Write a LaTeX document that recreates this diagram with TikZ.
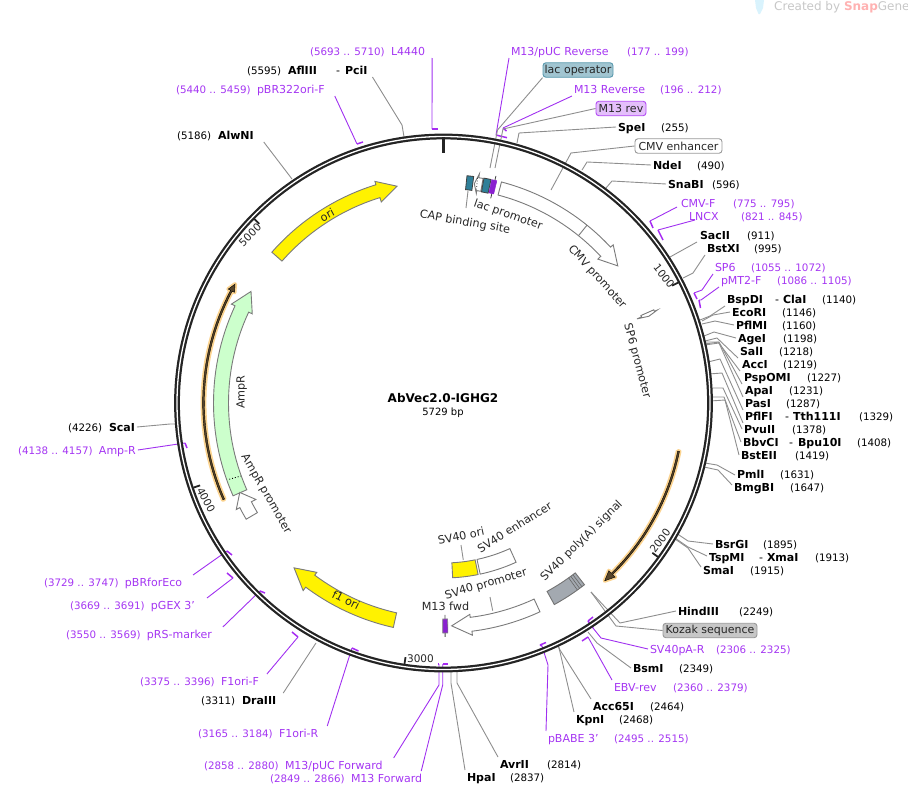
\documentclass[tikz,border=0pt]{standalone}
\usepackage{fontspec}
\setmainfont{DejaVu Sans}
\definecolor{pur}{HTML}{A435F2}
\definecolor{purl}{HTML}{A030F0}
\definecolor{purb}{HTML}{A62BF2}
\definecolor{purf}{HTML}{8A20D0}
\definecolor{gl}{HTML}{8E8E8E}
\definecolor{ringc}{HTML}{242424}
\definecolor{fe}{HTML}{7A7A7A}
\definecolor{teal2}{HTML}{2F7F98}
\definecolor{halo}{HTML}{FBD38F}
\definecolor{core}{HTML}{57452A}
\definecolor{polyc}{HTML}{A3A9B0}
\newcommand\cell[2]{\makebox[#1pt][l]{#2}}
\newcommand\gdw[1]{\textbf{#1}}
\newcommand\nm[1]{{\fontsize{10.3}{13}\selectfont #1}}
% generic label: name, left x, y, style, content
\newcommand\lab[5]{\node[#4] (#1) at ({#2-2},#3) {#5};}
% restriction site right: name x y W text num
\newcommand\rsr[6]{\lab{#1}{#2}{#3}{site}{\cell{#4}{\gdw{#5}}\nm{(#6)}}}
% left: name x y W num text
\newcommand\rsl[6]{\lab{#1}{#2}{#3}{site}{\cell{#4}{\nm{(#5)}}\gdw{#6}}}
\newcommand\prr[6]{\lab{#1}{#2}{#3}{prim}{\cell{#4}{#5}\nm{(#6)}}}
\newcommand\prl[6]{\lab{#1}{#2}{#3}{prim}{\cell{#4}{\nm{(#5)}}#6}}
\newcommand\leadg[4]{\coordinate (#1e) at #4; \draw[gline] #2 -- #3 -- (#1e);}
\newcommand\leadd[3]{\coordinate (#1e) at #3; \draw[gline] #2 -- (#1e);}
\newcommand\leadp[5]{\coordinate (#1e) at #4; \draw[pline] #2 -- #3 -- (#1e); \draw[pfoot] (#1e) -- #5;}
\newcommand\leadq[4]{\coordinate (#1e) at #3; \draw[pline] #2 -- (#1e); \draw[pfoot] (#1e) -- #4;}
% arrow on the circle: style, tail, neck, tip, r in, r out, head in, head out
\newcommand\garrow[8]{\draw[#1] plot[domain=#2:#3,samples=30,variable=\t] ({443.5+#6*sin(\t)},{403-#6*cos(\t)}) -- ({443.5+#8*sin(#3)},{403-#8*cos(#3)}) -- ({443.5+(#5+#6)/2*sin(#4)},{403-(#5+#6)/2*cos(#4)}) -- ({443.5+#7*sin(#3)},{403-#7*cos(#3)}) -- plot[domain=#3:#2,samples=30,variable=\t] ({443.5+#5*sin(\t)},{403-#5*cos(\t)}) -- cycle;}
\newcommand\gband[5]{\draw[#1] plot[domain=#2:#3,samples=12,variable=\t] ({443.5+#5*sin(\t)},{403-#5*cos(\t)}) -- plot[domain=#3:#2,samples=12,variable=\t] ({443.5+#4*sin(\t)},{403-#4*cos(\t)}) -- cycle;}
\newcommand\radial[4]{\draw[#1] ({443.5+#3*sin(#2)},{403-#3*cos(#2)}) -- ({443.5+#4*sin(#2)},{403-#4*cos(#2)});}
\tikzset{
 site/.style={anchor=west,inner sep=0pt,outer xsep=2pt,outer ysep=1pt,font=\fontsize{11}{13}\selectfont,text height=10pt,text depth=2pt,black},
 prim/.style={site,text=pur},
 flab/.style={inner sep=0pt,outer sep=0pt,font=\fontsize{11.2}{13}\selectfont,text=black!85},
 gline/.style={draw=gl,line width=0.9pt,line join=round},
 pline/.style={draw=purl,line width=0.9pt,line join=round},
 pfoot/.style={draw=purb,line width=1.5pt},
 fbox/.style={rounded corners=3pt,inner sep=0pt,minimum height=14.5pt,font=\fontsize{11}{13}\selectfont,line width=0.9pt,text=black!85},
 feat/.style={draw=fe,line width=0.9pt,line join=miter},
 ticklab/.style={inner sep=0pt,font=\fontsize{10.5}{12}\selectfont,text=black!85},
 tickm/.style={draw=ringc,line width=1.8pt},
 orangearrow/.style={fill=core,preaction={draw=halo,line width=4pt,line join=round}},
}
\begin{document}
\begin{tikzpicture}[x=1pt,y=-1pt]
\useasboundingbox (0,0) rectangle (908,795);
% logo
\fill[cyan!15] (755,0) -- (764,0) -- (763,8) -- (760,14) -- (758.5,14) -- (756,8) -- cycle;
\node[anchor=west,inner sep=0pt,font=\fontsize{12}{14}\selectfont,text=black!22] (logo) at (774,7.5) {Created by \textcolor{red!30}{\textbf{Snap}}Gene};
% labels
\prr{m13pucr}{511}{51}{116}{M13/pUC Reverse}{177 .. 199}
\node[fbox,draw=teal2!80,fill=teal2!45,minimum width=70pt] (lacop) at (578,70) {lac operator};
\prr{m13r}{574}{89}{86}{M13 Reverse}{196 .. 212}
\node[fbox,draw=purb!85,fill=purb!30,minimum width=50pt] (m13rev) at (621,108.5) {M13 rev};
\rsr{SpeI}{618}{127}{43}{SpeI}{255}
\node[fbox,draw=black!40,fill=white,minimum width=87pt] (cmvenh) at (678.5,146) {CMV enhancer};
\rsr{NdeI}{653}{165}{44}{NdeI}{490}
\rsr{SnaBI}{668}{184}{44}{SnaBI}{596}
\prr{cmvf}{681}{203}{52}{CMV-F}{775 .. 795}
\prr{lncx}{689}{216}{52}{LNCX}{821 .. 845}
\rsr{SacII}{700}{235}{47}{SacII}{911}
\rsr{BstXI}{707}{248}{47}{BstXI}{995}
\prr{sp6}{715}{267}{36}{SP6}{1055 .. 1072}
\prr{pmt}{721}{280}{56}{pMT2-F}{1086 .. 1105}
\lab{BspDI}{727}{299}{site}{\cell{48}{\gdw{BspDI}}\cell{8}{-}\cell{39}{\gdw{ClaI}}\nm{(1140)}}
\rsr{EcoRI}{732}{312}{50}{EcoRI}{1146}
\rsr{PflMI}{736}{325}{46}{PflMI}{1160}
\rsr{AgeI}{738}{338}{45}{AgeI}{1198}
\rsr{SalI}{740}{351}{39}{SalI}{1218}
\rsr{AccI}{742}{364}{41}{AccI}{1219}
\rsr{PspOMI}{744}{377}{63}{PspOMI}{1227}
\rsr{ApaI}{745}{390}{44}{ApaI}{1231}
\rsr{PasI}{745}{403}{41}{PasI}{1287}
\lab{PflFI}{745}{416}{site}{\cell{40}{\gdw{PflFI}}\cell{8}{-}\cell{66}{\gdw{Tth111I}}\nm{(1329)}}
\rsr{PvuII}{744}{429}{48}{PvuII}{1378}
\lab{BbvCI}{743}{442}{site}{\cell{46}{\gdw{BbvCI}}\cell{9}{-}\cell{59}{\gdw{Bpu10I}}\nm{(1408)}}
\rsr{BstEII}{741}{455}{54}{BstEII}{1419}
\rsr{PmlI}{737}{474}{43}{PmlI}{1631}
\rsr{BmgBI}{734}{487}{56}{BmgBI}{1647}
\rsr{BsrGI}{715}{544}{48}{BsrGI}{1895}
\lab{TspMI}{709}{557}{site}{\cell{50}{\gdw{TspMI}}\cell{8}{-}\cell{48}{\gdw{XmaI}}\nm{(1913)}}
\rsr{SmaI}{703}{570}{47}{SmaI}{1915}
\rsr{HindIII}{678}{611}{61}{HindIII}{2249}
\node[fbox,draw=black!40,fill=black!22,minimum width=94pt] (kozak) at (710,630.5) {Kozak sequence};
\prr{svpa}{650}{649}{66}{SV40pA-R}{2306 .. 2325}
\rsr{BsmI}{633}{668}{46}{BsmI}{2349}
\prr{ebv}{614}{687}{59}{EBV-rev}{2360 .. 2379}
\rsr{Acc}{593}{706}{57}{Acc65I}{2464}
\rsr{KpnI}{576}{719}{43}{KpnI}{2468}
\prr{pbabe}{548}{738}{66}{pBABE 3'}{2495 .. 2515}
\rsr{AvrII}{500}{764}{47}{AvrII}{2814}
\rsr{HpaI}{467}{777}{43}{HpaI}{2837}
\prl{m13f}{270}{778}{81}{2849 .. 2866}{M13 Forward}
\prl{m13pf}{204}{765}{81}{2858 .. 2880}{M13/pUC Forward}
\prl{fr}{198}{733}{81}{3165 .. 3184}{F1ori-R}
\rsl{DraIII}{201}{700}{41}{3311}{DraIII}
\prl{ff}{140}{681}{81}{3375 .. 3396}{F1ori-F}
\prl{prs}{66}{634}{81}{3550 .. 3569}{pRS-marker}
\prl{pgex}{70}{605}{81}{3669 .. 3691}{pGEX 3'}
\prl{pbr}{44}{582}{81}{3729 .. 3747}{pBRforEco}
\prl{ampr}{18}{450}{81}{4138 .. 4157}{Amp-R}
\rsl{ScaI}{68}{427}{41}{4226}{ScaI}
\rsl{AlwNI}{177}{135}{41}{5186}{AlwNI}
\prl{pbro}{176}{89}{81}{5440 .. 5459}{pBR322ori-F}
\lab{Afl}{247}{70}{site}{\cell{41}{\nm{(5595)}}\cell{48}{\gdw{AflIII}}\cell{9}{-}\gdw{PciI}}
\prl{l44}{310}{51}{81}{5693 .. 5710}{L4440}
% leaders (below the ring)
\leadq{l44}{([xshift=5pt]l44.south east)}{(432,129)}{(438,129)}
\leadq{m13pucr}{(m13pucr.south west)}{(496,135)}{(507,137.7)}
\leadg{lacop}{(lacop.south west)}{(497.5,130)}{(490,168)}
\leadq{m13r}{(m13r.south west)}{(503,128)}{(506.5,131)}
\leadg{m13rev}{(m13rev.west)}{(503,129)}{(495,168)}
\leadg{SpeI}{(SpeI.west)}{(519,133)}{(517,143)}
\leadg{cmvenh}{(cmvenh.west)}{(571,153)}{(551,190)}
\leadg{NdeI}{(NdeI.west)}{(587,162)}{(582,170)}
\leadg{SnaBI}{(SnaBI.west)}{(612,181)}{(606,188)}
\leadq{cmvf}{([xshift=-2pt,yshift=3pt]cmvf.south west)}{(650,221)}{(653,228)}
\leadq{lncx}{([xshift=8pt,yshift=3pt]lncx.south west)}{(658,230)}{(663,240)}
\leadd{SacII}{([xshift=-1pt]SacII.south west)}{(670,257)}
\leadg{BstXI}{(BstXI.south west)}{(693,273)}{(683,278)}
\leadp{sp6}{(sp6.south west)}{(702,290)}{(694,293)}{(697,299)}
\leadp{pmt}{(pmt.south west)}{(701,300)}{(699,300)}{(700.5,308)}
\leadg{BspDI}{(BspDI.south west)}{(710,316)}{(700,320)}
\leadg{EcoRI}{(EcoRI.west)}{(713,315)}{(702,321)}
\leadg{PflMI}{(PflMI.west)}{(715,321)}{(702,324)}
\leadg{AgeI}{(AgeI.west)}{(714,332)}{(704,336)}
\leadg{SalI}{(SalI.south west)}{(717,338)}{(705,341)}
\leadg{AccI}{(AccI.south west)}{(718,342)}{(705,342)}
\leadg{PspOMI}{(PspOMI.south west)}{(719,342)}{(705,344)}
\leadg{ApaI}{(ApaI.south west)}{(719,343)}{(705,345)}
\leadg{PasI}{(PasI.south west)}{(720,359)}{(708,362)}
\leadg{PflFI}{(PflFI.south west)}{(722,373)}{(709,374)}
\leadg{PvuII}{(PvuII.west)}{(723,388)}{(710,388)}
\leadg{BbvCI}{(BbvCI.west)}{(724,397)}{(710,397)}
\leadg{BstEII}{(BstEII.west)}{(725,400)}{(710,401)}
\leadg{PmlI}{([yshift=-1pt]PmlI.west)}{(717,465)}{(705,463)}
\leadg{BmgBI}{([yshift=2pt]BmgBI.west)}{(718,470)}{(704,467)}
\leadg{BsrGI}{(BsrGI.west)}{(688,541)}{(676,533)}
\leadg{TspMI}{([yshift=1pt]TspMI.west)}{(688,547)}{(675,538)}
\leadg{SmaI}{([yshift=3pt]SmaI.west)}{(688,548)}{(675,539)}
\leadg{HindIII}{(HindIII.west)}{(620,623)}{(591,592)}
\leadg{kozak}{(kozak.west)}{(616,626)}{(591,592)}
\leadp{svpa}{(svpa.west)}{(601,638)}{(593,628)}{(588,621)}
\draw[pfoot] (588,621) -- (593,617);
\leadg{BsmI}{(BsmI.west)}{(597,643)}{(588,632)}
\leadq{ebv}{(ebv.north west)}{(588,637)}{(582,641)}
\leadg{Acc}{(Acc.north west)}{(560,650)}{(558,645)}
\leadg{KpnI}{(KpnI.north west)}{(560,652)}{(558,645)}
\leadp{pbabe}{(pbabe.north west)}{(548,665)}{(542,646)}{(540,645)}
\draw[pfoot] (540,645) -- (546,642.5);
\leadg{AvrII}{(AvrII.north west)}{(457,683)}{(457,670)}
\leadg{HpaI}{(HpaI.north west)}{(451,683)}{(451,670)}
\leadp{m13f}{([xshift=-3pt]m13f.north east)}{(442.7,685)}{(442.7,664)}{(448,664)}
\leadp{m13pf}{([xshift=9pt]m13pf.north east)}{(439,685)}{(439,664)}{(438,664)}
\leadq{fr}{([xshift=7pt]fr.north east)}{(352,648)}{(358.5,651)}
\leadd{DraIII}{([xshift=5pt]DraIII.north east)}{(316,643)}
\leadq{ff}{([xshift=6pt]ff.north east)}{(298,637)}{(292,632)}
\leadq{prs}{([xshift=9pt]prs.north east)}{(260,591)}{(265,593)}
\leadq{pgex}{([xshift=10pt]pgex.north east)}{(233,578)}{(227,573)}
\leadq{pbr}{([xshift=9pt]pbr.north east)}{(227,551)}{(232,555)}
\leadq{ampr}{(ampr.east)}{(185,443)}{(187,448)}
\leadg{ScaI}{(ScaI.east)}{(170,424)}{(178,424)}
\leadd{AlwNI}{([xshift=8pt]AlwNI.south east)}{(292,179)}
\leadq{pbro}{([xshift=8pt]pbro.south east)}{(357,144)}{(363,142)}
\leadg{Afl}{([xshift=3pt]Afl.south east)}{(402,125)}{(404,137)}
% ring
\draw[draw=ringc,line width=5.8pt] (443.5,403) circle[radius=266.5pt];
\draw[draw=white,line width=1.3pt] (443.5,403) circle[radius=266.5pt];
% ticks
\draw[draw=ringc,line width=3pt] (443.5,137) -- (443.5,153);
\radial{tickm}{62.83}{264}{257}
\radial{tickm}{125.66}{264}{257}
\radial{tickm}{188.5}{264}{257}
\radial{tickm}{251.3}{264}{257}
\radial{tickm}{314.2}{264}{257}
\node[ticklab,rotate=-52] (t1k) at (664,276) {1000};
\node[ticklab,rotate=53] (t2k) at (660,541) {2000};
\node[ticklab] (t3k) at (420.5,659) {3000};
\node[ticklab,rotate=-62] (t4k) at (206,500) {4000};
\node[ticklab,rotate=45] (t5k) at (250,235) {5000};
% features
\garrow{feat,fill=yellow}{-48.7}{-17.2}{-12.1}{215}{228.5}{210.5}{232}
\garrow{feat,fill=green!20}{246.2}{295}{300.1}{215}{230}{211}{234}
\draw[black,line width=0.9pt,dotted] (229.3,479.3) -- (240.7,476);
\garrow{feat,fill=yellow}{192.6}{216.8}{222.2}{215}{230}{211.5}{234.3}
\garrow{feat,fill=white}{239.5}{242.8}{246.3}{216}{229}{211}{233}
\garrow{feat,fill=white}{155.2}{172.9}{177.9}{216}{230}{213}{234}
\garrow{feat,fill=white}{14.7}{47}{51.8}{215}{228.5}{211}{232}
\radial{feat}{38.9}{215}{228.5}
\garrow{feat,fill=white}{66.1}{66.5}{67.1}{216}{230}{211}{233}
\gband{feat,fill=yellow}{168.6}{177}{160}{175}
\gband{feat,fill=white}{155.5}{167.9}{160}{175}
\gband{feat,fill=polyc,draw=black!55}{142.2}{151.2}{215}{230}
\radial{draw=black!60,line width=0.6pt}{143}{215}{230}
\radial{draw=black!60,line width=0.6pt}{143.7}{215}{230}
\radial{draw=black!60,line width=0.6pt}{144.4}{215}{230}
\gband{draw=black!75,line width=0.8pt,fill=teal2}{5.9}{7.6}{214.5}{228.5}
\garrow{feat,fill=white}{10.0}{8.9}{8.0}{215}{228}{212}{232}
\draw[black,line width=0.7pt,dotted] (477.5,178) -- (476.5,190);
\gband{draw=black!75,line width=0.8pt,fill=teal2}{10.2}{12}{214.5}{228.5}
\radial{draw=black!75,line width=0.8pt}{13}{210}{233}
\gband{draw=purf,line width=0.5pt,fill=purf}{12.2}{13.5}{215}{228.5}
\radial{draw=black!70,line width=0.8pt}{179.6}{212}{234}
\gband{draw=black!50,line width=0.6pt,fill=purf}{178.9}{180.2}{216}{230}
% orange arcs
\garrow{orangearrow}{246.3}{297.9}{299.7}{239.1}{240.9}{236.5}{243.5}
\garrow{orangearrow}{101.6}{135.4}{137.8}{239.1}{240.9}{235.5}{244.5}
% feature labels
\node[flab,rotate=-10] (capl) at (465,222.5) {CAP binding site};
\node[flab,rotate=-19] (lacl) at (508,215) {lac promoter};
\node[flab,rotate=-48] (cmvl) at (597,277) {CMV promoter};
\node[flab,rotate=-75] (sp6l) at (637,361) {SP6 promoter};
\node[flab,rotate=44.5] (polyl) at (581.7,541) {SV40 poly(A) signal};
\node[flab,rotate=32] (enhl) at (514.5,527) {SV40 enhancer};
\node[flab,rotate=12] (oril) at (461,536) {SV40 ori};
\node[flab,rotate=16] (sprl) at (486,584.5) {SV40 promoter};
\node[flab] (fwdl) at (445.5,606) {M13 fwd};
\node[flab,rotate=90] (ampl) at (241.7,392) {AmpR};
\node[flab,rotate=-60] (ampp) at (266,494) {AmpR promoter};
\node[flab,rotate=28] (oriy) at (327,215) {ori};
\node[flab,rotate=-27] (foril) at (346,600) {f1 ori};
\coordinate (capf) at (468,191); \coordinate (capt) at (466,208);
\draw[gline] (capf) -- (capt);
\coordinate (orif) at (463.3,560); \coordinate (orit) at (461,545);
\draw[gline] (orit) -- (orif);
\coordinate (spf) at (492.7,610.7); \coordinate (spt) at (490,597);
\draw[gline] (spt) -- (spf);
% centre
\node[inner sep=0pt,font=\bfseries\fontsize{12}{14}\selectfont] (title) at (443,398.5) {AbVec2.0-IGHG2};
\node[inner sep=0pt,font=\fontsize{10}{12}\selectfont] (size) at (443,412.5) {5729 bp};
\end{tikzpicture}
\end{document}
